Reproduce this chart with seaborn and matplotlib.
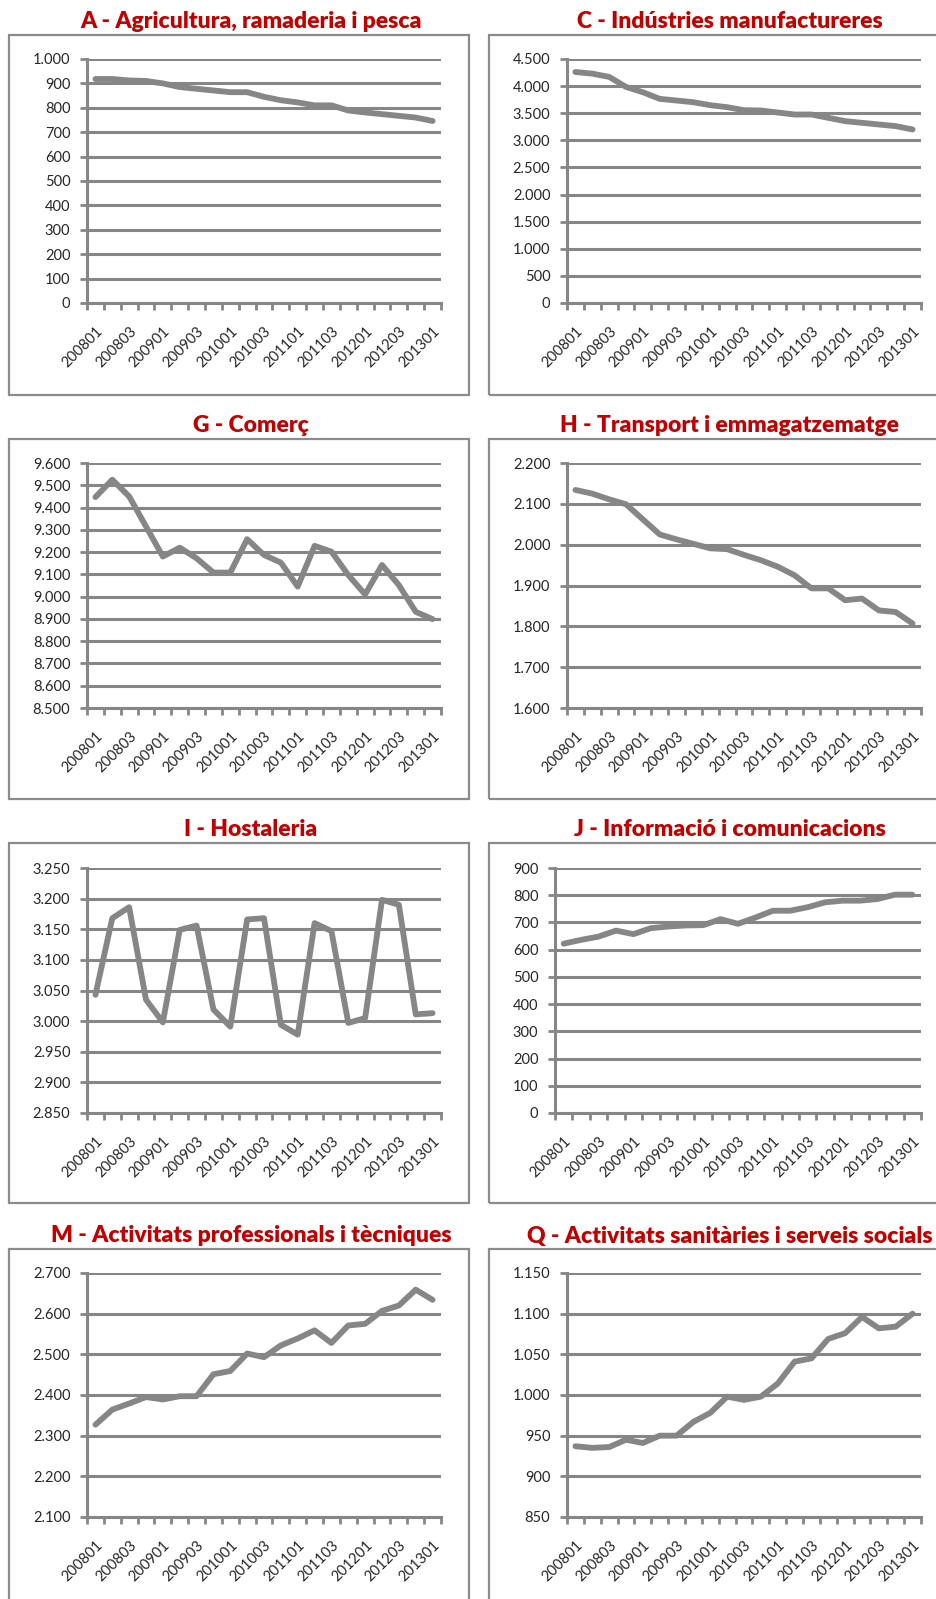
import numpy as np
import matplotlib
matplotlib.use("Agg")
import matplotlib.pyplot as plt
import seaborn as sns
from matplotlib.patches import Rectangle
from matplotlib.ticker import FuncFormatter

sns.set_style("white")
plt.rcParams["font.family"] = ["Lato", "DejaVu Sans"]

quarters = ["200801", "200802", "200803", "200804",
            "200901", "200902", "200903", "200904",
            "201001", "201002", "201003", "201004",
            "201101", "201102", "201103", "201104",
            "201201", "201202", "201203", "201204",
            "201301"]

titles = ["A - Agricultura, ramaderia i pesca", "C - Indústries manufactureres",
          "G - Comerç", "H - Transport i emmagatzematge",
          "I - Hostaleria", "J - Informació i comunicacions",
          "M - Activitats professionals i tècniques",
          "Q - Activitats sanitàries i serveis socials"]

agricultura = [918, 918, 912, 910, 900, 885, 878, 871, 864, 864, 845,
               831, 822, 810, 810, 789, 781, 774, 767, 760, 746]
industria = [4260, 4230, 4170, 3985, 3887, 3765, 3734, 3703, 3648, 3611, 3556,
             3550, 3513, 3476, 3476, 3415, 3354, 3323, 3292, 3262, 3200]
comerc = [9447, 9525, 9450, 9315, 9180, 9220, 9172, 9108, 9108, 9258, 9187,
          9153, 9045, 9228, 9202, 9097, 9010, 9142, 9052, 8932, 8899]
transport = [2134, 2125, 2111, 2099, 2062, 2025, 2013, 2002, 1991, 1989, 1975,
             1962, 1946, 1925, 1893, 1893, 1864, 1868, 1839, 1835, 1807]
hostaleria = [3043, 3168, 3186, 3035, 2998, 3149, 3156, 3019, 2991, 3166, 3168,
              2994, 2978, 3160, 3147, 2997, 3005, 3198, 3190, 3011, 3013]
informacio = [622, 636, 648, 670, 657, 679, 685, 689, 690, 712, 695,
              718, 743, 743, 756, 774, 780, 780, 786, 802, 802]
professionals = [2327, 2364, 2379, 2395, 2389, 2397, 2397, 2451, 2459, 2502, 2493,
                 2522, 2539, 2559, 2528, 2571, 2575, 2607, 2620, 2659, 2634]
sanitat = [937, 935, 936, 945, 941, 950, 950, 967, 978, 998, 994,
           998, 1014, 1041, 1045, 1069, 1076, 1096, 1082, 1084, 1100]

series = [agricultura, industria, comerc, transport,
          hostaleria, informacio, professionals, sanitat]
y_ranges = [(0, 1000, 100), (0, 4500, 500), (8500, 9600, 100), (1600, 2200, 100),
            (2850, 3250, 50), (0, 900, 100), (2100, 2700, 100), (850, 1150, 50)]

W, H = 936, 1599
GRAY = "#868686"
RED = "#C00000"
TXT = "#262626"

fig = plt.figure(figsize=(W / 100, H / 100), dpi=100)

row_tops = [59, 463, 868, 1273]
row_bots = [303, 708, 1113, 1517]
box_tops = [35, 439, 843, 1249]

fmt = FuncFormatter(lambda v, p: f"{v:,.0f}".replace(",", "."))
idx = np.arange(len(quarters))

for k, (title, vals, (lo, hi, step)) in enumerate(zip(titles, series, y_ranges)):
    row, col = divmod(k, 2)
    if col == 0:
        x0, x1, bx0, bx1, tcx = 87, 441, 9, 469, 251
    else:
        x0, x1, bx0, bx1, tcx = 567, 921, 489, 975, 730
        if k == 5:
            x0 = 555
    y0, y1 = row_tops[row], row_bots[row]

    # outer frame of each chart
    bt = box_tops[row]
    fig.patches.append(Rectangle((bx0 / W, 1 - (bt + 360) / H), (bx1 - bx0) / W, 360 / H,
                                 transform=fig.transFigure, fill=False,
                                 edgecolor="#8c8c8c", linewidth=1.6))
    fig.text(tcx / W, 1 - (bt - 13) / H, title, ha="center", va="center",
             color=RED, fontsize=16.5, fontweight="heavy")

    ax = fig.add_axes([x0 / W, 1 - y1 / H, (x1 - x0) / W, (y1 - y0) / H])
    sns.lineplot(x=idx, y=vals, ax=ax, color=GRAY, linewidth=4.2,
                 solid_capstyle="round", solid_joinstyle="round", zorder=3)

    ax.set_xlim(-0.5, len(quarters) - 0.5)
    ax.set_ylim(lo, hi)
    ax.set_yticks(np.arange(lo, hi + step / 2, step))
    ax.yaxis.set_major_formatter(fmt)
    ax.set_xticks(idx[::2], quarters[::2], rotation=45, ha="right",
                  va="top", rotation_mode="anchor")
    ax.set_xticks(np.arange(-0.5, len(quarters), 1), minor=True)
    ax.tick_params(axis="x", which="major", length=0, pad=15, labelsize=10.5,
                   labelcolor=TXT)
    ax.tick_params(axis="x", which="minor", length=5, width=2, color=GRAY,
                   direction="out", bottom=True)
    ax.tick_params(axis="y", length=5, width=2, color=GRAY, direction="out",
                   left=True, pad=7, labelsize=10.5, labelcolor=TXT)

    ax.yaxis.grid(True, color=GRAY, linewidth=2.2)
    ax.set_axisbelow(True)
    for s in ["top", "right"]:
        ax.spines[s].set_visible(False)
    for s in ["left", "bottom"]:
        ax.spines[s].set_color(GRAY)
        ax.spines[s].set_linewidth(2.2)
    ax.set_xlabel("")
    ax.set_ylabel("")
    ax.patch.set_alpha(0)

fig.savefig("out.png", dpi=100)
